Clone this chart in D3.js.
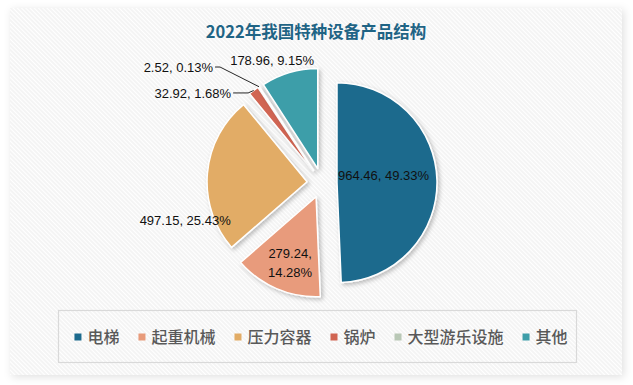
<!DOCTYPE html>
<html>
<head>
<meta charset="utf-8">
<script src="https://cdn.jsdelivr.net/npm/d3@7"></script>
<style>
  body { margin: 0; background: #ffffff; }
  svg { display: block; }
</style>
</head>
<body>
<div id="chart"></div>
<script>
// data
var categories = ["电梯", "起重机械", "压力容器", "锅炉", "大型游乐设施", "其他"];
var values = [964.46, 279.24, 497.15, 32.92, 2.52, 178.96];
var colors = ["#1c6a8d", "#e89b7b", "#e2ac66", "#d16552", "#b9c8b6", "#3e9ea9"];
var title = "2022年我国特种设备产品结构";

// layout
var width = 633, height = 385;
var cx = 322, cy = 183, radius = 100, explode = 15;
// label position, polar from each slice's own centre: [angle deg, distance]
var labelPolar = [[81.5, 47], [201.8, 70], [252.2, 128], [320.2, 101.5], [317.8, 139.6], [337.2, 117.8]];
var leaderRun = [15, 5];   // horizontal run for the two small slices

var total = d3.sum(values);
var pct = d3.format(".2%");

var svg = d3.select("#chart").append("svg")
  .attr("width", width)
  .attr("height", height);

var defs = svg.append("defs");

var stripes = defs.append("pattern")
  .attr("id", "stripes")
  .attr("patternUnits", "userSpaceOnUse")
  .attr("width", 4).attr("height", 3)
  .attr("patternTransform", "rotate(45)");
stripes.append("rect").attr("width", 4).attr("height", 3).attr("fill", "#fff");
stripes.append("line")
  .attr("x1", 0).attr("x2", 4).attr("y1", 1).attr("y2", 1)
  .attr("stroke", "#ededed").attr("stroke-width", 1.2);

var boxShadow = defs.append("filter").attr("id", "boxshadow")
  .attr("x", "-5%").attr("y", "-5%").attr("width", "110%").attr("height", "110%");
boxShadow.append("feDropShadow")
  .attr("dx", 2).attr("dy", 2).attr("stdDeviation", 4)
  .attr("flood-color", "#000").attr("flood-opacity", 0.12);

var sliceShadow = defs.append("filter").attr("id", "sliceshadow")
  .attr("x", "-20%").attr("y", "-20%").attr("width", "140%").attr("height", "140%");
sliceShadow.append("feDropShadow")
  .attr("dx", 2).attr("dy", 2).attr("stdDeviation", 2)
  .attr("flood-color", "#000").attr("flood-opacity", 0.25);

// chart background
svg.append("rect")
  .attr("x", 10).attr("y", 8)
  .attr("width", 612).attr("height", 367)
  .attr("fill", "url(#stripes)")
  .attr("filter", "url(#boxshadow)");

// title
svg.append("text")
  .attr("x", 316).attr("y", 38)
  .attr("text-anchor", "middle")
  .attr("font-family", "'Noto Sans CJK SC', 'Noto Sans', sans-serif")
  .attr("font-weight", "bold")
  .attr("font-size", 16.5)
  .attr("fill", "#1f6485")
  .text(title);

// pie
var pie = d3.pie().sort(null).value(function(d) { return d; });
var arcs = pie(values);
var arc = d3.arc().innerRadius(0).outerRadius(radius);

function dir(a) { return [Math.sin(a), -Math.cos(a)]; }
function sliceCentre(d) {
  var m = dir((d.startAngle + d.endAngle) / 2);
  return [cx + m[0] * explode, cy + m[1] * explode];
}

var g = svg.append("g");

g.selectAll("path")
  .data(arcs)
  .enter().append("path")
  .attr("transform", function(d) { var c = sliceCentre(d); return "translate(" + c[0] + "," + c[1] + ")"; })
  .attr("d", arc)
  .attr("fill", function(d, i) { return colors[i]; })
  .attr("stroke", "#fff")
  .attr("stroke-width", 1.5)
  .attr("stroke-linejoin", "round")
  .attr("filter", "url(#sliceshadow)");

// labels
var labelFont = "'Liberation Sans', Arial, sans-serif";
arcs.forEach(function(d, i) {
  var c = sliceCentre(d);
  var lp = labelPolar[i];
  var la = lp[0] * Math.PI / 180;
  var p = [c[0] + Math.sin(la) * lp[1], c[1] - Math.cos(la) * lp[1]];
  var txt = d3.format(".2f")(values[i]) + ", " + pct(values[i] / total);

  if (i === 3 || i === 4) {
    // small slices: leader line + right aligned text
    var m = dir((d.startAngle + d.endAngle) / 2);
    var edge = [c[0] + m[0] * radius, c[1] + m[1] * radius];
    var run = leaderRun[i - 3];
    svg.append("polyline")
      .attr("points", [edge, p, [p[0] - run, p[1]]].map(function(q) { return q.join(","); }).join(" "))
      .attr("fill", "none")
      .attr("stroke", "#262626")
      .attr("stroke-width", 1);
    svg.append("text")
      .attr("x", p[0] - run - 2).attr("y", p[1])
      .attr("dy", "0.35em")
      .attr("text-anchor", "end")
      .attr("font-family", labelFont)
      .attr("font-size", 13)
      .attr("fill", "#111")
      .text(txt);
  } else if (i === 1) {
    var t = svg.append("text")
      .attr("x", p[0]).attr("y", p[1])
      .attr("text-anchor", "middle")
      .attr("font-family", labelFont)
      .attr("font-size", 13)
      .attr("fill", "#111");
    t.append("tspan").attr("x", p[0]).attr("dy", "-0.3em").text(d3.format(".2f")(values[i]) + ",");
    t.append("tspan").attr("x", p[0]).attr("dy", "1.45em").text(pct(values[i] / total));
  } else {
    svg.append("text")
      .attr("x", p[0]).attr("y", p[1])
      .attr("dy", "0.35em")
      .attr("text-anchor", "middle")
      .attr("font-family", labelFont)
      .attr("font-size", 13)
      .attr("fill", "#111")
      .text(txt);
  }
});

// legend
svg.append("rect")
  .attr("x", 58.5).attr("y", 310.5)
  .attr("width", 518).attr("height", 52)
  .attr("fill", "none")
  .attr("stroke", "#d9d9d9")
  .attr("stroke-width", 1.2);

var legendFont = "'Noto Sans CJK SC', sans-serif";
var legend = svg.append("g");
var items = legend.selectAll("g")
  .data(categories)
  .enter().append("g");
items.append("rect")
  .attr("width", 7).attr("height", 7)
  .attr("y", -3.5)
  .attr("fill", function(d, i) { return colors[i]; });
items.append("text")
  .attr("x", 13)
  .attr("dy", "0.36em")
  .attr("font-family", legendFont)
  .attr("font-size", 16)
  .attr("font-weight", 500)
  .attr("fill", "#595959")
  .text(function(d) { return d; });

var xPos = 0, gap = 19, positions = [];
items.each(function() {
  positions.push(xPos);
  xPos += 13 + this.querySelector("text").getComputedTextLength() + gap;
});
var legendW = xPos - gap;
var startX = 321 - legendW / 2;
items.attr("transform", function(d, i) { return "translate(" + (startX + positions[i]) + ",337)"; });
</script>
</body>
</html>
